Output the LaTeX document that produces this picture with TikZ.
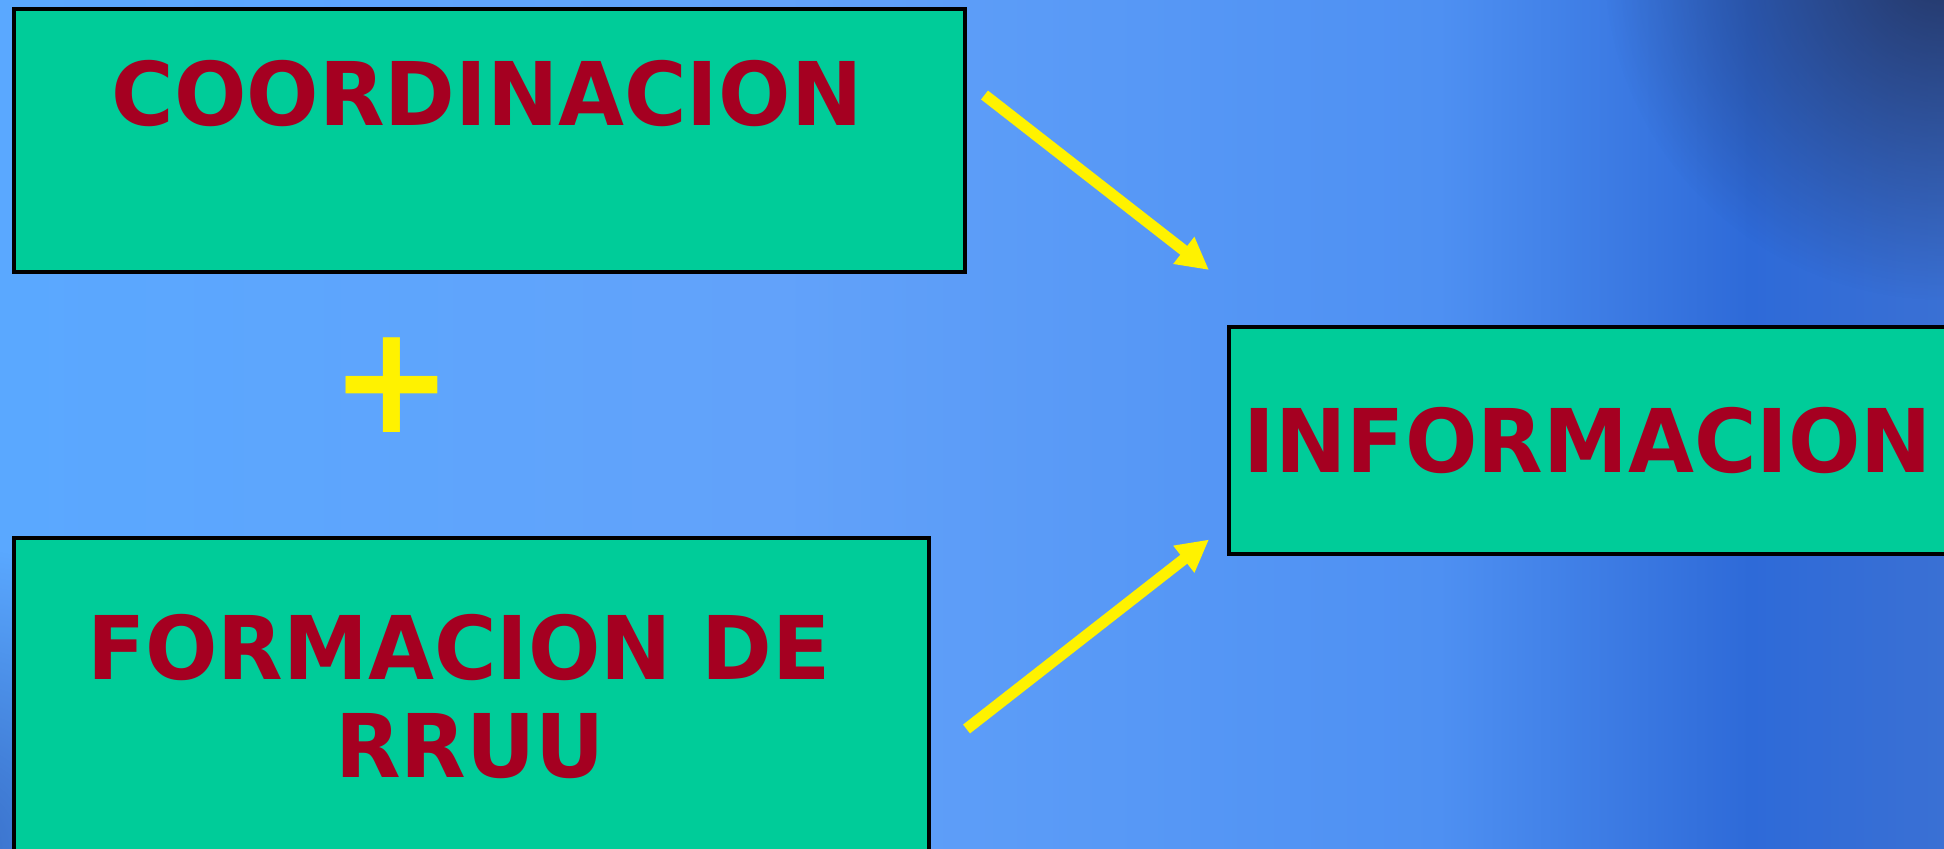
\documentclass[tikz,border=0pt]{standalone}
\usepackage{fontspec}
\setmainfont{DejaVu Sans}[FakeStretch=0.97]
\usetikzlibrary{arrows.meta, fadings, positioning}
\definecolor{boxgreen}{HTML}{00CC99}
\definecolor{wine}{HTML}{A50021}
\definecolor{bgdark}{HTML}{22305A}
\definecolor{bgdeep}{HTML}{2A55B0}
\definecolor{bga}{HTML}{55AAFF}
\definecolor{bgb}{HTML}{5AA8FF}
\definecolor{bgc}{HTML}{62A2FA}
\definecolor{bgd}{HTML}{4E90F2}
\definecolor{bge}{HTML}{2E6AD8}
\definecolor{bgf}{HTML}{4676D0}
\definecolor{bgg}{HTML}{4868B0}
\definecolor{bgh}{HTML}{3A5A9E}
\pgfdeclarehorizontalshading{bgshade}{100bp}{color(0bp)=(bga); color(25bp)=(bgb);
  color(45bp)=(bgc); color(62bp)=(bgd); color(70bp)=(bge);
  color(80bp)=(bgf); color(92bp)=(bgg); color(100bp)=(bgh)}
\tikzfading[name=glow, inner color=transparent!0, outer color=transparent!100]

\begin{document}
\begin{tikzpicture}[
box/.style={rectangle, draw=black, line width=1pt, fill=boxgreen, anchor=north west, inner sep=0pt},
link/.style={draw=yellow, line width=3.2pt, -{Triangle[length=0.32cm, width=0.32cm]}}]
\tikzstyle{lbl}=[font=\bfseries\fontsize{25}{28}\selectfont, text=wine, anchor=base]
      \def\W{19.44}
      \def\H{8.48}
\useasboundingbox (0,0) rectangle (\W,-\H);
%background
\shade[shading=bgshade] (0,0) rectangle (\W,-\H);
\fill[bgdark, path fading=glow, fill opacity=0.9] (\W,0.4) circle (3.4);
\fill[bgdeep, path fading=glow, fill opacity=0.7] (-0.5,-\H) circle (3);

%boxes
\node[box, minimum width=9.51cm, minimum height=2.63cm] (coordbox) at (0.12,-0.07) {};
\node[lbl] (coord) at (4.87,-1.25) {COORDINACION};

\node[box, minimum width=9.15cm, minimum height=3.4cm] (formbox) at (0.12,-5.36) {};
\node[lbl] (form) at (4.59,-6.79) {FORMACION DE};
\node[lbl] (rruu) at (4.70,-7.77) {RRUU};

\node[box, minimum width=7.5cm, minimum height=2.27cm] (infobox) at (12.27,-3.25) {};
\node[lbl] (info) at (15.88,-4.72) {INFORMACION};

\node[font=\bfseries\fontsize{43}{43}\selectfont, text=yellow, anchor=base, inner sep=0pt] (plus) at (3.92,-4.32) {+};

%arrows
\coordinate (c1) at ([xshift=0.18cm, yshift=-0.88cm]coordbox.north east);
\coordinate (i1) at ([xshift=-0.18cm, yshift=0.55cm]infobox.north west);
\coordinate (f1) at ([xshift=0.36cm, yshift=-1.93cm]formbox.north east);
\coordinate (i2) at ([xshift=-0.18cm, yshift=0.16cm]infobox.south west);
\draw[link] (c1) -- (i1);
\draw[link] (f1) -- (i2);
\end{tikzpicture}
\end{document}
